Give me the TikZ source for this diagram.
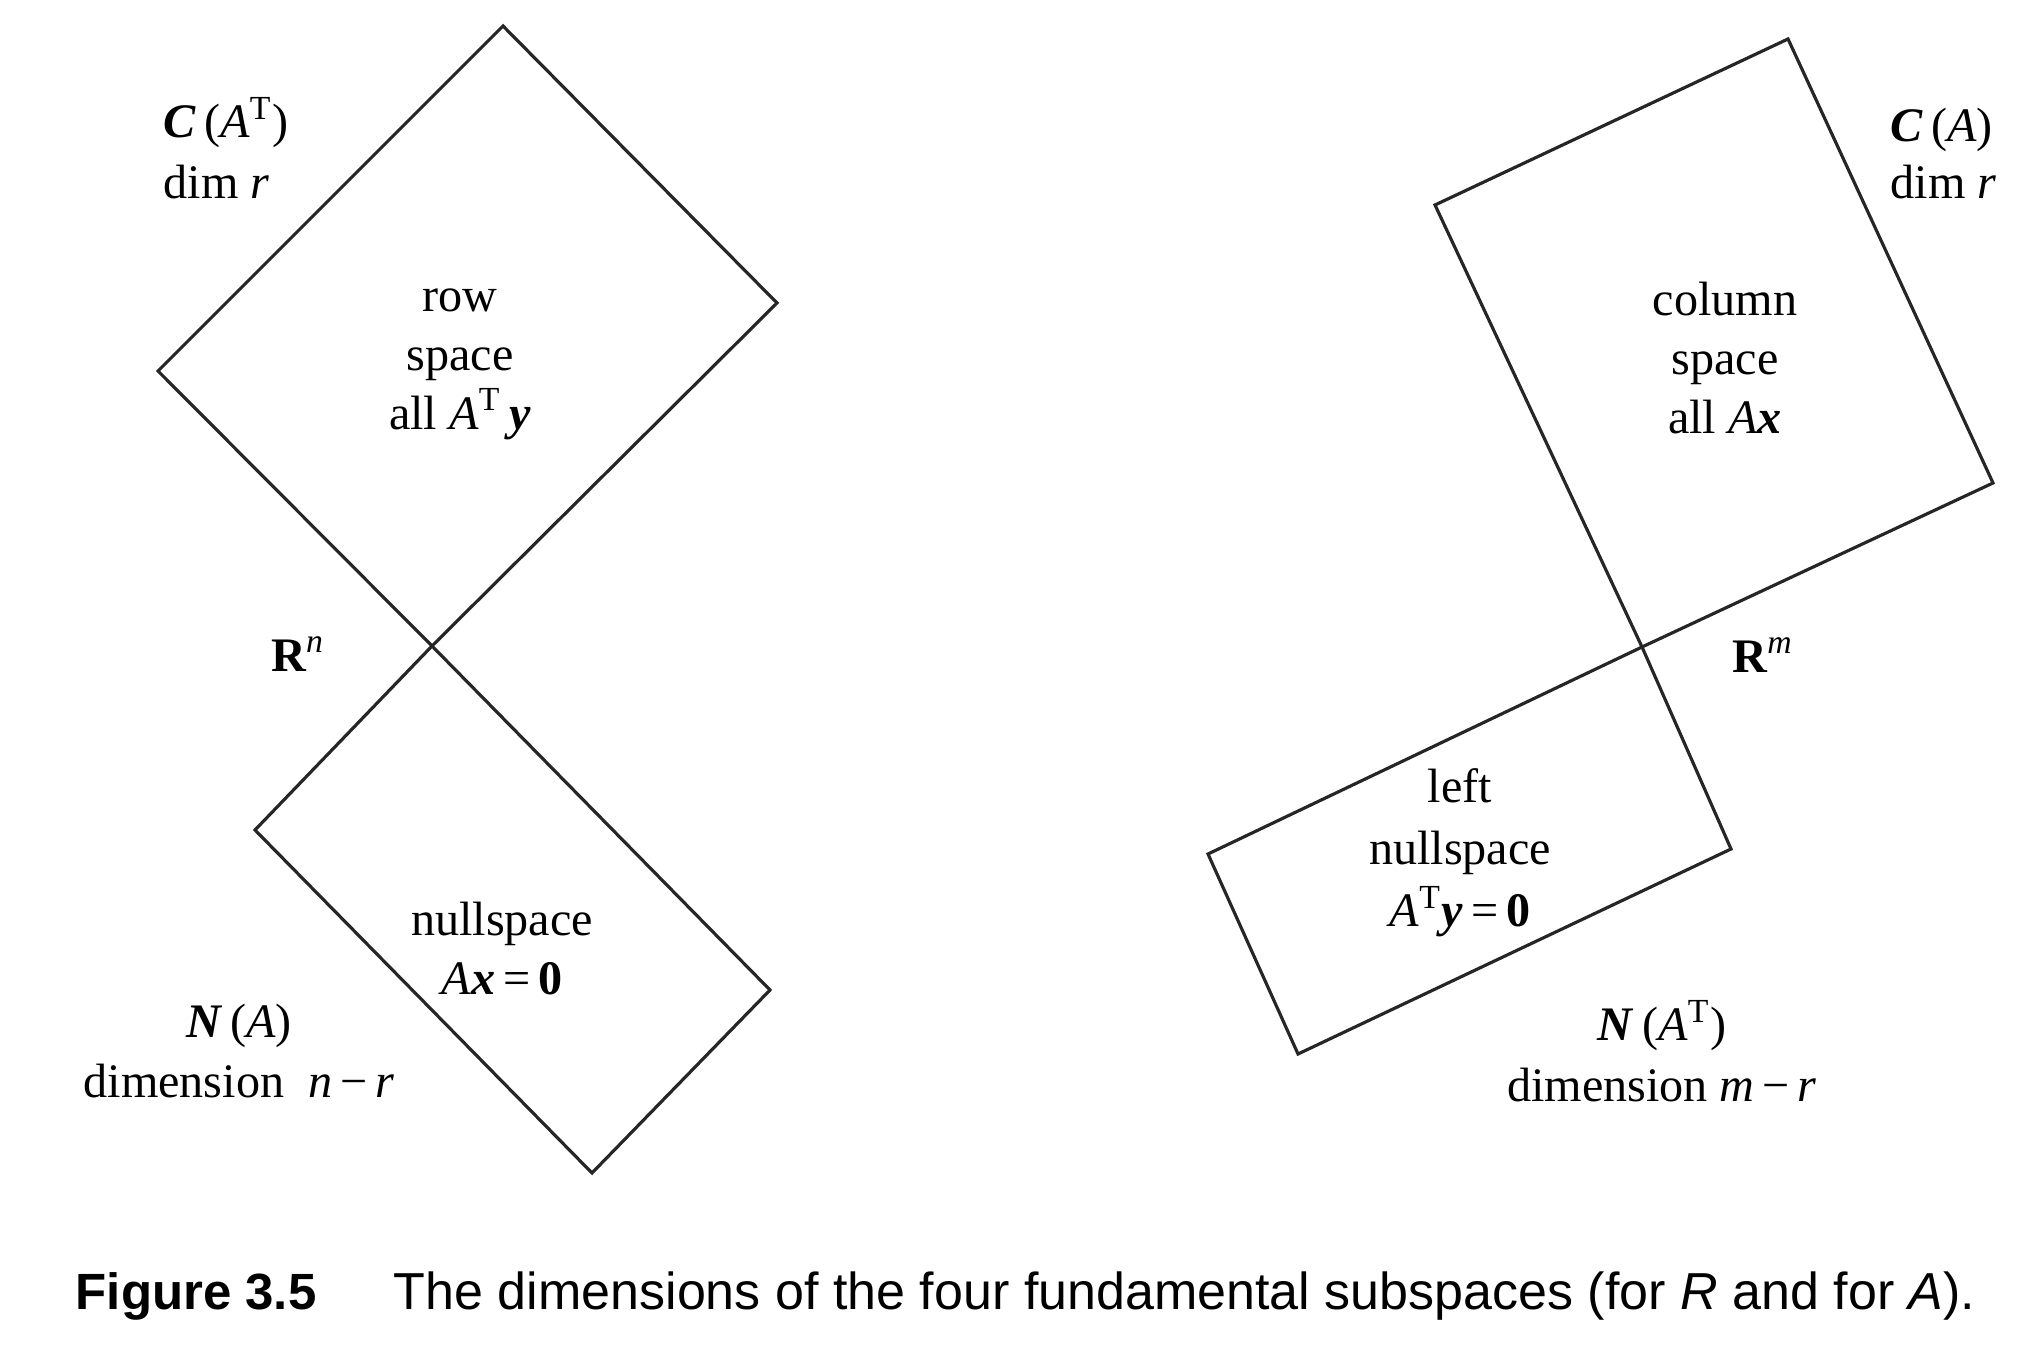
\documentclass[tikz,border=0pt]{standalone}
\usepackage{fontspec}
\setmainfont{Liberation Serif}
\newfontfamily\capfont{Liberation Sans}
\usetikzlibrary{positioning}

\newcommand{\supT}{\textsuperscript{T}}
\newcommand{\bvec}[1]{\textbf{\textit{#1}}}

\begin{document}
\begin{tikzpicture}[
  plane/.style={line width=0.9pt, draw=black!85, line join=miter},
  txt/.style={align=center, inner sep=0pt, font=\fontsize{13.7}{16.8}\selectfont},
  dimtxt/.style={align=left, inner sep=0pt, font=\fontsize{13.7}{16.2}\selectfont},
  captxt/.style={inner sep=0pt, font=\capfont\fontsize{14.5}{17}\selectfont}]
\useasboundingbox (0,0) rectangle (20.42,13.60);
% R^n : row space and nullspace
\coordinate (Rn) at (4.32,7.14);
\coordinate (rowR) at (7.77,10.57);
\coordinate (rowT) at (5.03,13.34);
\coordinate (rowL) at (1.58,9.89);
\coordinate (nulL) at (2.55,5.30);
\coordinate (nulB) at (5.92,1.87);
\coordinate (nulR) at (7.70,3.70);
\draw[plane] (Rn) -- (rowR) -- (rowT) -- (rowL) -- cycle;
\draw[plane] (Rn) -- (nulR) -- (nulB) -- (nulL) -- cycle;
% R^m : column space and left nullspace
\coordinate (Rm) at (16.42,7.13);
\coordinate (colL) at (14.35,11.55);
\coordinate (colT) at (17.88,13.21);
\coordinate (colR) at (19.93,8.77);
\coordinate (lnuTR) at (17.31,5.11);
\coordinate (lnuB) at (12.98,3.06);
\coordinate (lnuL) at (12.08,5.06);
\draw[plane] (Rm) -- (colL) -- (colT) -- (colR) -- cycle;
\draw[plane] (Rm) -- (lnuTR) -- (lnuB) -- (lnuL) -- cycle;
% labels, left
\node[dimtxt, anchor=west, font=\fontsize{13.7}{17.3}\selectfont] (CAT) at (1.63,12.12) {\bvec{C}\,(\textit{A}\supT)\\dim \textit{r}};
\node[txt] (rowtxt) at (4.60,9.96) {row\\space\\all \textit{A}\supT\,\bvec{y}};
\node[txt, font=\bfseries\fontsize{13.7}{16}\selectfont] (Rnlbl) at (2.98,7.06) {R\textsuperscript{\textit{\mdseries n}}};
\node[txt] (nultxt) at (5.02,4.11) {nullspace\\\textit{A}\bvec{x}\,=\,\textbf{0}};
\node[txt, font=\fontsize{13.7}{17.3}\selectfont] (NA) at (2.39,3.09) {\bvec{N}\,(\textit{A})\\dimension\ \ \textit{n}\,−\,\textit{r}};
% labels, right
\node[dimtxt, anchor=west] (CA) at (18.90,12.06) {\bvec{C}\,(\textit{A})\\dim \textit{r}};
\node[txt] (coltxt) at (17.25,10.02) {column\\space\\all \textit{A}\bvec{x}};
\node[txt, font=\bfseries\fontsize{13.7}{16}\selectfont] (Rmlbl) at (17.63,7.05) {R\textsuperscript{\textit{\mdseries m}}};
\node[txt, font=\fontsize{13.7}{17.6}\selectfont] (lnutxt) at (14.60,5.07) {left\\nullspace\\\textit{A}\supT\bvec{y}\,=\,\textbf{0}};
\node[txt, font=\fontsize{13.7}{17.3}\selectfont] (NAT) at (16.62,3.09) {\bvec{N}\,(\textit{A}\supT)\\dimension \textit{m}\,−\,\textit{r}};
% caption
\node[captxt, anchor=base west] (figno) at (0.75,0.51) {\textbf{Figure 3.5}};
\node[captxt, anchor=base west, font=\capfont\fontsize{14.8}{17}\selectfont] (captext) at ([xshift=0.76cm]figno.base east) {The dimensions of the four fundamental subspaces (for \textit{R} and for \textit{A}).};
\end{tikzpicture}
\end{document}
